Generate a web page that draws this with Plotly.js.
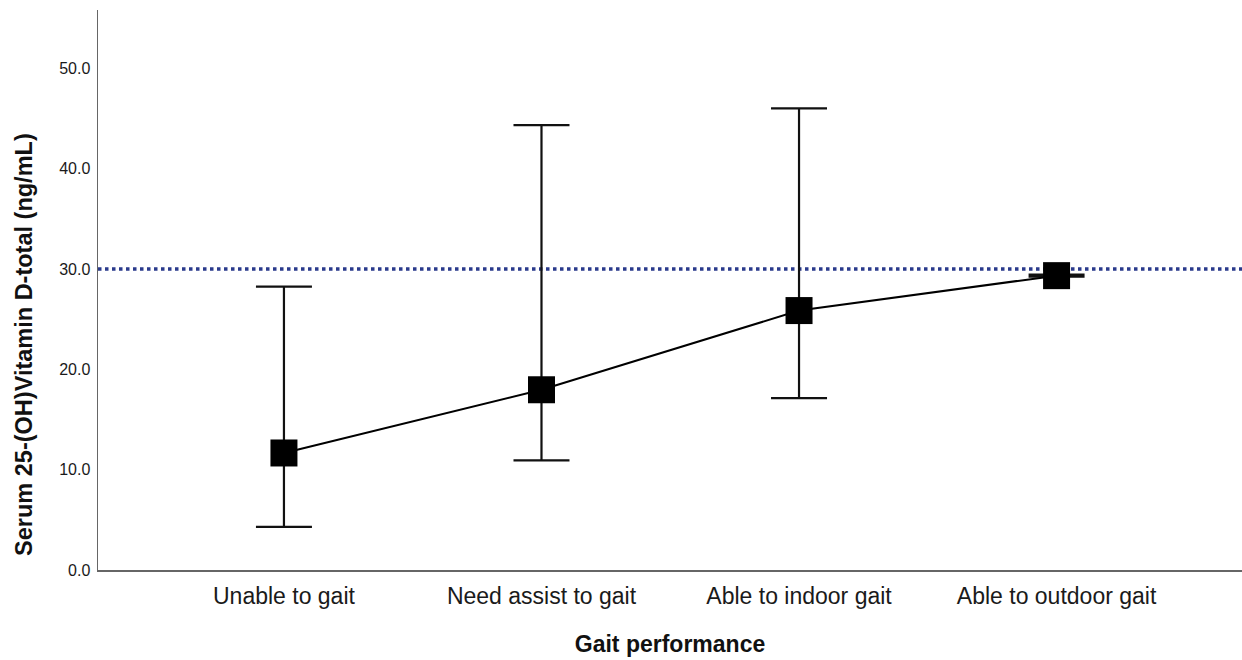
<!DOCTYPE html>
<html>
<head>
<meta charset="utf-8">
<script src="https://cdn.plot.ly/plotly-3.0.1.min.js"></script>
<style>html,body{margin:0;padding:0;background:#fff;}#chart{width:1242px;height:660px;}</style>
</head>
<body>
<div id="chart"></div>
<script>
const categories = ["Unable to gait", "Need assist to gait", "Able to indoor gait", "Able to outdoor gait"];
const means = [11.66, 17.96, 25.85, 29.33];
const upper = [28.24, 44.33, 46.0, 29.43];
const lower = [4.30, 10.93, 17.13, 29.23];
const referenceLevel = 30;
const yTicks = [0, 10, 20, 30, 40, 50];
const yTickLabels = ["0.0", "10.0", "20.0", "30.0", "40.0", "50.0"];
const xTitle = 'Gait performance';
const yTitle = 'Serum 25-(OH)Vitamin D-total (ng/mL)';

const errPlus = upper.map((u, i) => u - means[i]);
const errMinus = lower.map((l, i) => means[i] - l);

const trace = {
  x: categories,
  y: means,
  type: 'scatter',
  mode: 'lines+markers',
  line: {color: '#000', width: 2},
  marker: {symbol: 'square', size: 27, color: '#000'},
  error_y: {type: 'data', array: errPlus, arrayminus: errMinus, visible: true, color: '#111', thickness: 2.2, width: 28},
  hoverinfo: 'x+y',
  showlegend: false
};

const layout = {
  width: 1242, height: 660,
  margin: {l: 98, r: 0, t: 10, b: 90},
  paper_bgcolor: '#fff', plot_bgcolor: '#fff',
  font: {family: '"Liberation Sans", Arial, sans-serif', color: '#1a1a1a'},
  xaxis: {
    type: 'category',
    range: [-0.722, 3.72],
    showline: true, linecolor: '#666', linewidth: 1.5,
    showgrid: false, zeroline: false, ticks: '',
    tickfont: {size: 23, color: '#1a1a1a'},
    ticklabelstandoff: 5,
    title: {text: xTitle, font: {size: 23, color: '#111', weight: 'bold'}, standoff: 28}
  },
  yaxis: {
    range: [0, 55.8],
    tickvals: yTicks, ticktext: yTickLabels,
    showline: true, linecolor: '#666', linewidth: 1.5,
    showgrid: false, zeroline: false, ticks: '',
    tickfont: {size: 16, color: '#1a1a1a'},
    ticklabelstandoff: 3
  },
  annotations: [{
    text: yTitle, textangle: -90,
    xref: 'paper', x: 0, xshift: -74, xanchor: 'center',
    yref: 'paper', y: 0.402, yanchor: 'middle',
    showarrow: false,
    font: {size: 23.5, color: '#111', weight: 'bold', family: '"Liberation Sans", Arial, sans-serif'}
  }],
  shapes: [{
    type: 'line', xref: 'paper', x0: 0, x1: 1, yref: 'y', y0: referenceLevel, y1: referenceLevel,
    line: {color: '#2a3a8c', width: 3.5, dash: 'dot'}, layer: 'below'
  }]
};

Plotly.newPlot('chart', [trace], layout, {displayModeBar: false, staticPlot: true});
</script>
</body>
</html>
